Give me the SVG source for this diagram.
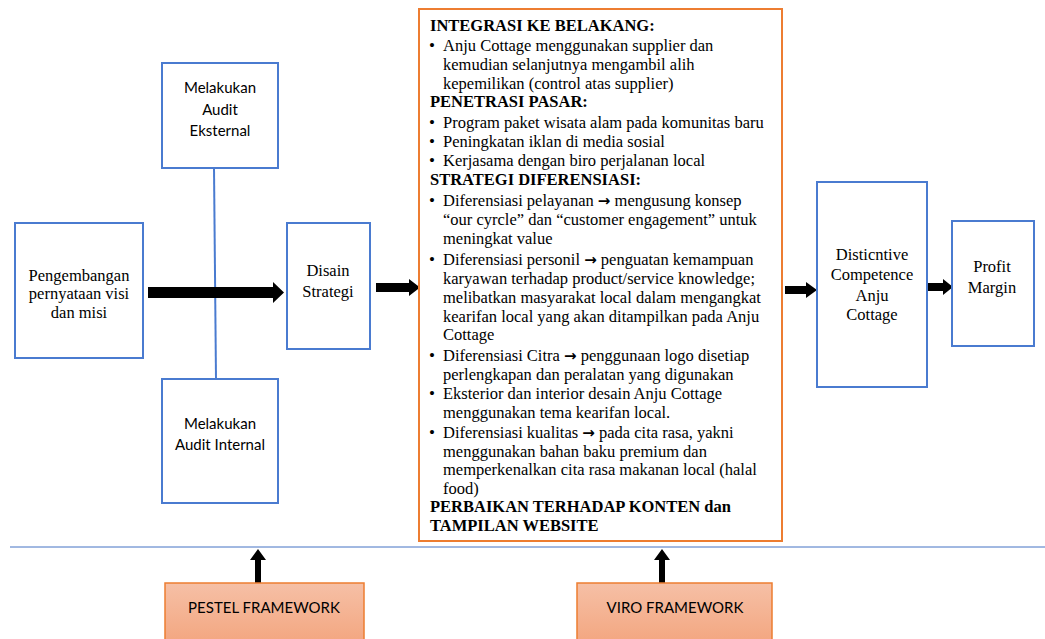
<svg xmlns="http://www.w3.org/2000/svg" width="1045" height="639" viewBox="0 0 1045 639">
<style>
.box{fill:#fff;stroke:#4A7BD0;stroke-width:2}
.t{font-family:"Liberation Serif","Times New Roman",serif;font-size:16.5px;fill:#000}
.c{font-family:Lato,"Noto Sans",sans-serif;font-size:15px;fill:#000}
.m{text-anchor:middle}
.b{font-weight:bold}
.u{font-size:17px}
.a{font-family:"DejaVu Sans",sans-serif;font-weight:bold;font-size:15px}
.fw{fill:url(#g);stroke:#ED7D31;stroke-width:1.5}
</style>
<defs>
<linearGradient id="g" x1="0" y1="0" x2="0" y2="1">
<stop offset="0" stop-color="#F6C0A6"/>
<stop offset="1" stop-color="#F3A680"/>
</linearGradient>
</defs>
<rect width="1045" height="639" fill="#fff"/>
<g id="connectors">
<line x1="214" y1="168" x2="216" y2="379" stroke="#4A7BD0" stroke-width="2"/>
<line x1="10" y1="547" x2="1045" y2="547" stroke="#4472C4" stroke-width="1"/>
<polygon points="148,287 273,287 273,282 284,292.5 273,303 273,298 148,298" fill="#000"/>
<polygon points="376,283 409,283 409,279 420,287.5 409,296 409,292 376,292" fill="#000"/>
<polygon points="785,286 806,286 806,282 817,290 806,298 806,294 785,294" fill="#000"/>
<polygon points="922,283 943,283 943,279 953,287 943,295 943,291 922,291" fill="#000"/>
<polygon points="255,583 255,560 250,560 258,549 266,560 261,560 261,583" fill="#000"/>
<polygon points="659,583 659,560 654,560 662,549 670,560 665,560 665,583" fill="#000"/>
</g>
<g id="visi">
<rect class="box" x="15" y="223" width="128" height="135"/>
<text class="t m" x="79" y="281">Pengembangan</text>
<text class="t m" x="79" y="299">pernyataan visi</text>
<text class="t m" x="79" y="318">dan misi</text>
</g>
<g id="eksternal">
<rect class="box" x="162" y="63" width="116" height="105"/>
<text class="c m" x="220" y="93">Melakukan</text>
<text class="c m" x="220" y="115">Audit</text>
<text class="c m" x="220" y="136">Eksternal</text>
</g>
<g id="internal">
<rect class="box" x="162" y="379" width="116" height="124"/>
<text class="c m" x="220" y="429">Melakukan</text>
<text class="c m" x="220" y="450">Audit Internal</text>
</g>
<g id="disain">
<rect class="box" x="287" y="223" width="83" height="126"/>
<text class="t m" x="328" y="276">Disain</text>
<text class="t m" x="328" y="297">Strategi</text>
</g>
<g id="strategi">
<rect x="419" y="9" width="363" height="532" fill="#fff" stroke="#ED7D31" stroke-width="2"/>
<g class="t">
<text class="b" x="430" y="31">INTEGRASI KE BELAKANG:</text>
<text class="u" x="429" y="51">•</text><text x="443" y="51">Anju Cottage menggunakan supplier dan</text>
<text x="443" y="70">kemudian selanjutnya mengambil alih</text>
<text x="443" y="89">kepemilikan (control atas supplier)</text>
<text class="b" x="430" y="107">PENETRASI PASAR:</text>
<text class="u" x="429" y="128">•</text><text x="443" y="128">Program paket wisata alam pada komunitas baru</text>
<text class="u" x="429" y="147">•</text><text x="443" y="147">Peningkatan iklan di media sosial</text>
<text class="u" x="429" y="166">•</text><text x="443" y="166">Kerjasama dengan biro perjalanan local</text>
<text class="b" x="430" y="185">STRATEGI DIFERENSIASI:</text>
<text class="u" x="429" y="206">•</text><text x="443" y="206">Diferensiasi pelayanan <tspan class="a">→</tspan> mengusung konsep</text>
<text x="443" y="225">“our cyrcle” dan “customer engagement” untuk</text>
<text x="443" y="244">meningkat value</text>
<text class="u" x="429" y="265">•</text><text x="443" y="265">Diferensiasi personil <tspan class="a">→</tspan> penguatan kemampuan</text>
<text x="443" y="284">karyawan terhadap product/service knowledge;</text>
<text x="443" y="303">melibatkan masyarakat local dalam mengangkat</text>
<text x="443" y="322">kearifan local yang akan ditampilkan pada Anju</text>
<text x="443" y="340">Cottage</text>
<text class="u" x="429" y="361">•</text><text x="443" y="361">Diferensiasi Citra <tspan class="a">→</tspan> penggunaan logo disetiap</text>
<text x="443" y="380">perlengkapan dan peralatan yang digunakan</text>
<text class="u" x="429" y="399">•</text><text x="443" y="399">Eksterior dan interior desain Anju Cottage</text>
<text x="443" y="418">menggunakan tema kearifan local.</text>
<text class="u" x="429" y="438">•</text><text x="443" y="438">Diferensiasi kualitas <tspan class="a">→</tspan> pada cita rasa, yakni</text>
<text x="443" y="457">menggunakan bahan baku premium dan</text>
<text x="443" y="475">memperkenalkan cita rasa makanan local (halal</text>
<text x="443" y="494">food)</text>
<text class="b" x="430" y="512">PERBAIKAN TERHADAP KONTEN dan</text>
<text class="b" x="430" y="531">TAMPILAN WEBSITE</text>
</g>
</g>
<g id="distinctive">
<rect class="box" x="817" y="182" width="110" height="205"/>
<text class="t m" x="872" y="260">Disticntive</text>
<text class="t m" x="872" y="280">Competence</text>
<text class="t m" x="872" y="301">Anju</text>
<text class="t m" x="872" y="320">Cottage</text>
</g>
<g id="profit">
<rect class="box" x="952" y="221" width="82" height="125"/>
<text class="t m" x="992" y="272">Profit</text>
<text class="t m" x="992" y="293">Margin</text>
</g>
<g id="pestel">
<rect class="fw" x="165" y="583" width="199" height="60"/>
<text class="c m" x="264" y="613">PESTEL FRAMEWORK</text>
</g>
<g id="viro">
<rect class="fw" x="577" y="583" width="195" height="60"/>
<text class="c m" x="675" y="613">VIRO FRAMEWORK</text>
</g>
</svg>
